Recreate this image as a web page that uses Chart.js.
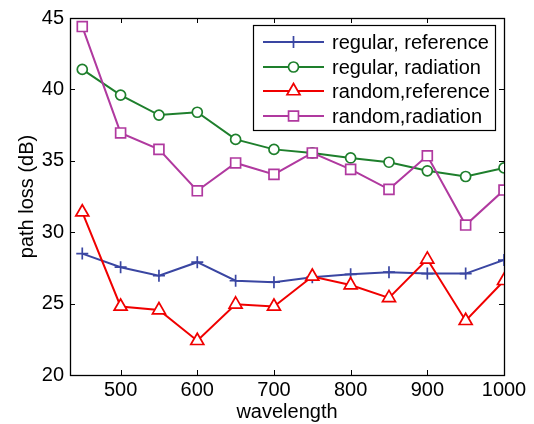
<!DOCTYPE html>
<html>
<head>
<meta charset="utf-8">
<script src="https://cdn.jsdelivr.net/npm/chart.js@4.4.0/dist/chart.umd.min.js"></script>
<style>
  html, body { margin: 0; padding: 0; background: #fff; }
</style>
</head>
<body>
<canvas id="lossChart" width="534" height="424"></canvas>
<script>
// data
const wavelengths = [450, 500, 550, 600, 650, 700, 750, 800, 850, 900, 950, 1000];
const regularReference = [28.5, 27.55, 26.95, 27.9, 26.6, 26.5, 26.85, 27.05, 27.2, 27.1, 27.1, 28.05];
const regularRadiation = [41.4, 39.6, 38.2, 38.4, 36.5, 35.8, 35.55, 35.2, 34.9, 34.3, 33.9, 34.5];
const randomReference = [31.4, 24.8, 24.55, 22.4, 24.95, 24.8, 26.9, 26.3, 25.4, 28.1, 23.8, 26.6];
const randomRadiation = [44.4, 36.95, 35.8, 32.9, 34.85, 34.05, 35.55, 34.4, 33.0, 35.35, 30.5, 32.95];

const xTicks = [500, 600, 700, 800, 900, 1000];
const yTicks = [20, 25, 30, 35, 40, 45];

const font = { family: '"Liberation Sans", Arial, sans-serif', size: 20 };

function toPoints(values) {
  return values.map((v, i) => ({ x: wavelengths[i], y: v }));
}

function series(label, values, color, style, radius, order) {
  return {
    label: label,
    data: toPoints(values),
    borderColor: color,
    backgroundColor: '#fff',
    borderWidth: 2,
    pointStyle: style,
    pointRadius: radius,
    pointBorderWidth: 1.7,
    pointBorderColor: color,
    pointBackgroundColor: '#fff',
    tension: 0,
    fill: false,
    order: order
  };
}

// box round the plot with inward ticks on all four sides
const frameTicks = {
  id: 'frameTicks',
  beforeDatasetsDraw(chart) {
    const { ctx, chartArea: a, scales: { x, y } } = chart;
    const len = 5;
    ctx.save();
    ctx.strokeStyle = '#000';
    ctx.lineWidth = 1;
    ctx.beginPath();
    xTicks.forEach(v => {
      const px = Math.round(x.getPixelForValue(v)) + 0.5;
      ctx.moveTo(px, a.bottom); ctx.lineTo(px, a.bottom - len);
      ctx.moveTo(px, a.top); ctx.lineTo(px, a.top + len);
    });
    yTicks.forEach(v => {
      const py = Math.round(y.getPixelForValue(v)) + 0.5;
      ctx.moveTo(a.left, py); ctx.lineTo(a.left + len, py);
      ctx.moveTo(a.right, py); ctx.lineTo(a.right - len, py);
    });
    ctx.stroke();
    ctx.lineWidth = 1.3;
    ctx.strokeRect(Math.round(a.left) + 0.5, Math.round(a.top) + 0.5,
      Math.round(a.right - a.left), Math.round(a.bottom - a.top));
    ctx.restore();
  }
};

// legend box in the upper right, matlab style (line with marker)
const boxLegend = {
  id: 'boxLegend',
  afterDraw(chart) {
    const ctx = chart.ctx;
    const left = 253, top = 25, right = 495, bottom = 130;
    const rows = [42, 67, 91, 116];
    ctx.save();
    ctx.fillStyle = '#fff';
    ctx.fillRect(left, top, right - left, bottom - top);
    ctx.strokeStyle = '#000';
    ctx.lineWidth = 1.2;
    ctx.strokeRect(left + 0.5, top + 0.5, right - left, bottom - top);
    chart.data.datasets.forEach((ds, i) => {
      const yy = rows[i];
      ctx.strokeStyle = ds.borderColor;
      ctx.lineWidth = ds.borderWidth;
      ctx.beginPath();
      ctx.moveTo(263, yy); ctx.lineTo(324, yy);
      ctx.stroke();
      ctx.fillStyle = '#fff';
      ctx.lineWidth = ds.pointBorderWidth;
      Chart.helpers.drawPoint(ctx, {
        pointStyle: ds.pointStyle, radius: ds.pointRadius,
        rotation: 0, borderWidth: ds.pointBorderWidth
      }, 293.5, yy);
      ctx.fillStyle = '#000';
      ctx.font = font.size + 'px ' + font.family;
      ctx.textBaseline = 'middle';
      ctx.textAlign = 'left';
      ctx.fillText(ds.label, 332, yy + 1);
    });
    ctx.restore();
  }
};

const ctx = document.getElementById('lossChart').getContext('2d');
const lossChart = new Chart(ctx, {
  type: 'line',
  data: {
    datasets: [
      series('regular, reference', regularReference, '#3A46A2', 'cross', 6, 4),
      series('regular, radiation', regularRadiation, '#1E7F2C', 'circle', 5, 3),
      series('random,reference', randomReference, '#F00000', 'triangle', 7.5, 2),
      series('random,radiation', randomRadiation, '#B0399F', 'rect', 7, 1)
    ]
  },
  options: {
    responsive: false,
    animation: false,
    layout: { padding: { top: 14, right: 30, left: 0, bottom: 0 } },
    plugins: {
      legend: { display: false },
      tooltip: { enabled: false }
    },
    scales: {
      x: {
        type: 'linear',
        min: 434,
        max: 1000,
        afterBuildTicks: s => { s.ticks = xTicks.map(v => ({ value: v })); },
        afterFit: s => { s.height = 49; },
        grid: { display: false, drawTicks: false },
        border: { display: false },
        ticks: { font: font, color: '#000', padding: 3, maxRotation: 0, callback: v => String(v) },
        title: { display: true, text: 'wavelength', font: font, color: '#000', padding: { top: 0, bottom: 0 } }
      },
      y: {
        min: 20,
        max: 45,
        afterBuildTicks: s => { s.ticks = yTicks.map(v => ({ value: v })); },
        afterFit: s => { s.width = 70; },
        grid: { display: false, drawTicks: false },
        border: { display: false },
        ticks: { font: font, color: '#000', padding: 6, callback: v => String(v) },
        title: { display: true, text: 'path loss (dB)', font: font, color: '#000', padding: { top: 15, bottom: 0 } }
      }
    }
  },
  plugins: [frameTicks, boxLegend]
});
</script>
</body>
</html>
